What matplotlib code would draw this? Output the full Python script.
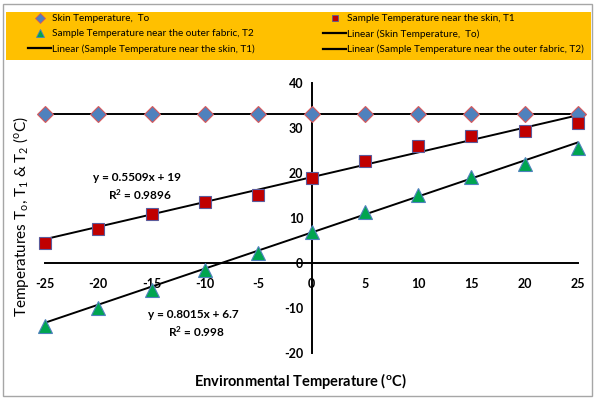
import matplotlib.pyplot as plt
from matplotlib.patches import Rectangle
from matplotlib.lines import Line2D

plt.rcParams['font.family'] = ['Lato', 'DejaVu Sans']
plt.rcParams['axes.unicode_minus'] = False
plt.rcParams['mathtext.fontset'] = 'custom'
plt.rcParams['mathtext.rm'] = 'Lato'
plt.rcParams['mathtext.bf'] = 'Lato:bold'
plt.rcParams['mathtext.default'] = 'rm'

# environmental temperature (x) and the three measured temperatures
env_temp = [-25, -20, -15, -10, -5, 0, 5, 10, 15, 20, 25]
skin_t0 = [33, 33, 33, 33, 33, 33, 33, 33, 33, 33, 33]
near_skin_t1 = [4.4, 7.5, 10.8, 13.6, 15.0, 18.8, 22.6, 25.9, 28.2, 29.3, 31.1]
outer_t2 = [-14.1, -10.1, -6.1, -1.7, 2.1, 6.9, 11.3, 15.0, 19.1, 21.9, 25.6]

# linear trend lines: (slope, intercept)
fit_t0 = (0.0, 33.0)
fit_t1 = (0.5509, 19.0)
fit_t2 = (0.8015, 6.7)

x_ticks = [-25, -20, -15, -10, -5, 0, 5, 10, 15, 20, 25]
y_ticks = [-20, -10, 0, 10, 20, 30, 40]

W, H = 596, 399
fig = plt.figure(figsize=(W / 100, H / 100), dpi=100)

# outer chart border and orange legend band
fig.patches.append(Rectangle((3 / W, 3 / H), 589 / W, 392 / H, transform=fig.transFigure,
                             fill=False, edgecolor='#a6a6a6', lw=1.0))
fig.patches.append(Rectangle((6 / W, 1 - 60 / H), 585 / W, 48 / H, transform=fig.transFigure,
                             facecolor='#ffc000', edgecolor='none'))

ax = fig.add_axes([45 / W, 1 - 352.7 / H, 533 / W, 270 / H])
ax.set_xlim(-25, 25)
ax.set_ylim(-20, 40)

for side in ('top', 'right'):
    ax.spines[side].set_visible(False)
ax.spines['left'].set_position(('data', 0))
ax.spines['bottom'].set_position(('data', 0))
ax.spines['left'].set_linewidth(1.4)
ax.spines['bottom'].set_linewidth(1.4)

ax.set_xticks(x_ticks)
ax.set_xticklabels([str(v) for v in x_ticks])
ax.set_yticks(y_ticks)
ax.set_yticklabels([str(v) for v in y_ticks])
ax.tick_params(axis='x', length=0, pad=11, labelsize=9)
ax.tick_params(axis='y', length=0, pad=6, labelsize=9)
for lbl in ax.get_xticklabels() + ax.get_yticklabels():
    lbl.set_fontweight('bold')

xs = [x_ticks[0], x_ticks[-1]]
for slope, icpt in (fit_t0, fit_t1, fit_t2):
    ax.plot(xs, [slope * x + icpt for x in xs], color='black', lw=1.4, zorder=3)

ax.plot(env_temp, skin_t0, ls='none', marker='D', ms=8, mfc='#4f81bd', mec='#d9595b',
        mew=0.8, clip_on=False, zorder=4)
ax.plot(env_temp, near_skin_t1, ls='none', marker='s', ms=9, mfc='#c00000', mec='#5b5b9b',
        mew=0.8, clip_on=False, zorder=4)
ax.plot(env_temp, outer_t2, ls='none', marker='^', ms=10, mfc='#00a550', mec='#4f81bd',
        mew=0.8, clip_on=False, zorder=4)

eq_style = dict(ha='center', va='center', fontsize=8.5, fontweight='bold')
ax.text(-16.4, 18.9, 'y = 0.5509x + 19', **eq_style)
ax.text(-16.1, 15.2, r'R$\mathbf{^2}$ = 0.9896', **eq_style)
ax.text(-11.1, -11.6, 'y = 0.8015x + 6.7', **eq_style)
ax.text(-10.8, -15.4, r'R$\mathbf{^2}$ = 0.998', **eq_style)

fig.text(300 / W, 1 - 381 / H, r'Environmental Temperature ($\mathbf{^o}$C)', ha='center',
         va='center', fontsize=10.5, fontweight='bold')
fig.text(21 / W, 1 - 217 / H, r'Temperatures T$_o$, T$_1$ & T$_2$ ($^o$C)', ha='center',
         va='center', rotation=90, fontsize=11)

# legend, two columns inside the orange band
def mk(marker, ms, fc, ec):
    return Line2D([], [], ls='none', marker=marker, ms=ms, mfc=fc, mec=ec, mew=0.6)

line = Line2D([], [], color='black', lw=1.6)
col1 = [(mk('D', 5, '#4f81bd', '#d9595b'), 'Skin Temperature,  To'),
        (mk('^', 6, '#00a550', '#4f81bd'), 'Sample Temperature near the outer fabric, T2'),
        (line, 'Linear (Sample Temperature near the skin, T1)')]
col2 = [(mk('s', 5, '#c00000', '#5b5b9b'), 'Sample Temperature near the skin, T1'),
        (line, 'Linear (Skin Temperature,  To)'),
        (line, 'Linear (Sample Temperature near the outer fabric, T2)')]

for items, x0 in ((col1, 25), (col2, 320)):
    fig.legend([h for h, _ in items], [t for _, t in items], loc='upper left',
               bbox_to_anchor=(x0 / W, 1 - 11 / H), frameon=False, fontsize=7.2,
               handlelength=2.3, handletextpad=0.1, labelspacing=0.62, borderpad=0.3,
               borderaxespad=0)

fig.savefig('out.png', dpi=100)
